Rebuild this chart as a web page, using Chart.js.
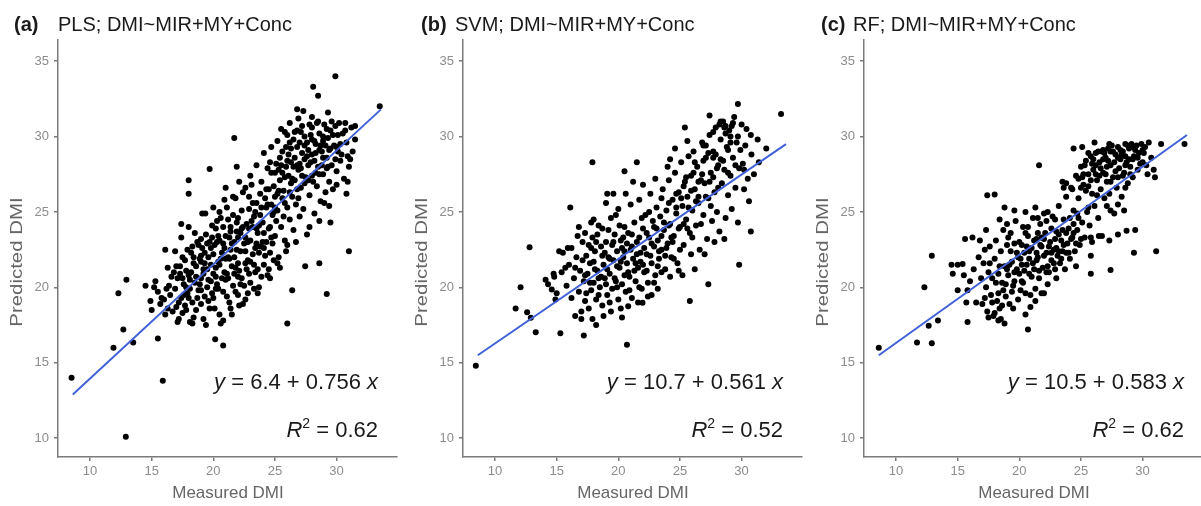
<!DOCTYPE html>
<html>
<head>
<meta charset="utf-8">
<script src="https://cdn.jsdelivr.net/npm/chart.js@4.4.0/dist/chart.umd.min.js"></script>
<style>
  html, body { margin: 0; padding: 0; background: #fff; overflow: hidden; }
  body { width: 1201px; height: 506px; position: relative; font-family: "Liberation Sans", Arial, sans-serif; }
  .panel { position: absolute; top: 0; width: 405px; height: 506px; }
  .panel canvas { position: absolute; left: 0; top: 0; }
  .tag { position: absolute; top: 12px; font-size: 20px; line-height: 24px; font-weight: bold; color: #1a1a1a; white-space: nowrap; }
  .ttl { position: absolute; top: 12px; font-size: 20px; line-height: 24px; color: #1a1a1a; white-space: nowrap; }
  .eq { position: absolute; right: 27px; font-size: 22px; line-height: 26px; color: #1a1a1a; white-space: nowrap; }
  .eq sup { font-size: 14px; vertical-align: 9px; line-height: 0; }
  .ylab { position: absolute; left: -83px; top: 252px; width: 200px; text-align: center; font-size: 17px; line-height: 20px; color: #666; transform: rotate(-90deg) scaleX(1.2); }
  .xlab { position: absolute; left: 128px; top: 483px; width: 200px; text-align: center; font-size: 17px; line-height: 20px; color: #666; }
</style>
</head>
<body>
<script>
// --- DATOS ---
const xTicks = [10, 15, 20, 25, 30];
const yTicks = [10, 15, 20, 25, 30, 35];
const xRange = [7.4, 34.9];
const yRange = [8.75, 36.4];

const panelTags = ["(a)", "(b)", "(c)"];
const panelTitles = ["PLS; DMI~MIR+MY+Conc", "SVM; DMI~MIR+MY+Conc", "RF; DMI~MIR+MY+Conc"];
const intercepts = ["6.4", "10.7", "10.5"];
const slopes = ["0.756", "0.561", "0.583"];
const r2Values = ["0.62", "0.52", "0.62"];

// recta ajustada (extremos)
const fitX = [8.6, 33.6];
const plsFit = [12.9, 31.8];
const svmFit = [15.5, 29.5];
const rfFit = [15.5, 30.1];

// Medido vs predicho - PLS
const plsPoints = [
  [8.5,14.0],[12.9,10.1],[15.9,13.8],[11.9,16.0],[12.7,17.2],[13.5,16.35],[12.95,20.5],[12.3,19.6],[15.5,16.6],[20.15,16.55],
  [20.8,16.15],[26.0,17.6],[29.2,19.55],[31.0,22.4],[27.45,21.4],[28.6,21.6],[26.4,19.8],[33.5,32.0],[29.9,34.0],[28.1,33.3],
  [28.5,32.7],[26.8,31.8],[21.7,29.9],[19.7,27.85],[18.0,27.1],[18.0,26.2],[17.4,24.2],[16.1,22.5],[19.35,24.9],[21.9,28.0],
  [29.5,24.3],[29.4,25.4],[30.8,26.2],[30.9,28.7],[31.5,30.7],[30.7,30.9],[29.3,31.6],
  [14.5,20.1],[14.9,19.1],[15.0,18.5],[15.3,20.4],[15.5,19.7],[15.7,18.9],[15.2,20.0],[16.0,19.2],[16.1,18.2],[16.3,21.3],
  [16.4,20.1],[16.5,19.5],[16.7,18.4],[16.8,21.0],[16.9,19.9],[17.0,18.7],[17.1,20.6],[17.2,17.9],[17.3,21.4],[17.4,19.3],
  [17.5,22.0],[17.6,20.2],[17.7,18.8],[17.8,21.1],[17.9,19.6],[18.0,20.8],[18.1,17.7],[18.2,22.3],[18.3,19.0],[18.4,21.6],
  [18.5,20.3],[18.6,18.5],[18.7,23.0],[18.8,19.8],[18.9,21.9],[19.0,20.6],[19.0,18.9],[19.1,22.6],[19.2,21.2],[19.3,19.4],
  [19.4,23.5],[19.5,20.0],[19.6,22.0],[19.7,18.6],[19.8,21.5],[19.9,24.1],[20.0,20.9],[20.0,19.3],[20.1,22.8],[20.2,23.9],
  [20.3,20.2],[20.4,21.7],[20.5,18.2],[20.6,24.6],[20.7,22.3],[20.8,19.7],[20.9,21.0],[21.0,23.4],[21.0,20.5],[21.1,25.3],
  [21.2,22.0],[21.3,19.0],[21.4,24.0],[21.5,21.4],[21.6,20.1],[21.7,23.0],[21.8,25.9],[21.9,22.5],[22.0,19.5],[22.0,24.6],
  [22.1,21.1],[22.2,23.6],[22.3,20.6],[22.4,26.3],[22.5,22.9],[22.6,19.2],[22.7,24.2],[22.8,21.8],[22.9,25.2],[23.0,20.3],
  [23.0,23.1],[23.1,26.8],[23.2,22.2],[23.3,24.7],[23.4,21.0],[23.5,25.6],[23.6,23.6],[23.7,20.0],[23.8,22.7],[23.9,27.0],
  [24.0,24.3],[24.1,21.5],[24.2,25.9],[24.3,23.0],[24.4,20.8],[24.5,26.5],[24.6,22.3],[24.7,27.6],[24.8,24.8],[24.9,21.8],
  [25.0,26.0],[25.0,23.4],[25.1,28.2],[25.2,25.1],[25.3,22.0],[25.4,27.1],[25.5,24.0],[25.6,29.0],[25.7,26.4],[25.8,23.1],
  [25.9,28.0],[26.0,25.3],[26.0,30.1],[26.1,27.4],[26.2,24.5],[26.3,29.2],[26.4,26.0],[26.5,23.8],[26.6,28.6],[26.7,25.5],
  [26.8,30.4],[26.9,27.8],[27.0,24.7],[27.0,29.6],[27.1,26.6],[27.2,28.9],[27.3,25.2],[27.4,30.0],[27.5,27.3],[27.6,23.5],
  [27.7,29.1],[27.8,26.1],[27.9,28.3],[28.0,30.6],[28.1,27.0],[28.2,24.9],[28.3,29.5],[28.4,26.7],[28.5,28.0],[28.6,30.2],
  [28.7,25.7],[28.8,29.0],[28.9,27.5],[29.0,30.8],[29.1,26.3],[29.2,28.6],[29.3,29.9],[29.4,27.0],[29.5,30.4],[29.6,28.1],
  [29.7,26.5],[29.8,29.4],[29.9,30.7],[30.0,27.7],[30.1,29.0],[30.3,28.4],[30.5,30.2],[30.6,27.2],[30.8,29.6],[31.0,28.0],
  [31.2,30.6],[31.5,29.8],
  [17.2,19.0],[17.5,18.3],[17.8,20.0],[18.0,19.3],[18.2,21.0],[18.4,18.0],[18.6,20.7],[18.8,22.8],[19.0,19.8],[19.2,17.9],
  [19.3,21.6],[19.5,22.9],[19.6,19.1],[19.8,20.4],[20.0,22.2],[20.1,18.6],[20.3,24.4],[20.4,19.9],[20.5,23.1],[20.7,20.6],
  [20.8,17.8],[20.9,22.6],[21.1,19.4],[21.2,24.5],[21.3,21.9],[21.4,18.6],[21.5,22.9],[21.7,20.9],[21.8,19.7],[21.9,24.3],
  [22.0,21.6],[22.1,18.8],[22.2,22.4],[22.3,25.1],[22.5,20.1],[22.6,23.3],[22.7,21.2],[22.8,19.6],[22.9,23.9],[23.0,21.7],
  [23.2,25.6],[23.3,19.9],[23.4,22.6],[23.6,21.2],[23.7,24.1],[23.9,20.7],[24.0,23.0],[24.2,22.1],[24.3,25.3],[24.5,21.2],
  [24.6,24.0],[24.8,22.9],[24.9,26.7],[25.1,24.4],[25.3,26.4],[25.4,21.3],[25.5,28.1],[25.7,24.7],[25.8,27.3],[26.0,22.8],
  [26.1,28.8],[26.3,26.9],[26.5,29.8],[26.6,27.1],[26.8,28.1],[26.9,25.9],[27.1,30.3],[27.2,27.4],[27.4,28.5],[27.6,29.6],
  [27.7,27.1],[27.9,30.1],[28.0,28.8],[28.2,29.7],[28.3,27.6],[28.5,31.0],[28.6,29.1],[28.8,28.1],[28.9,30.0],[29.1,29.4],
  [29.3,28.0],[29.5,29.2],[29.7,30.1],[30.0,29.3],[30.2,30.9],[30.4,28.8],[23.0,27.4],[22.6,26.6],[21.6,26.0],[20.9,25.8],
  [21.3,23.3],[20.2,21.3],[19.7,23.0],[18.9,20.2],[18.5,23.6],[17.9,22.5],[17.0,21.4],[16.6,20.7],[16.2,19.9],[17.6,19.5],
  [24.4,27.9],[24.1,28.9],[25.2,29.7],[24.7,29.3],[23.5,28.1],[26.2,30.9],[25.8,30.3],
  [16.9,22.4],[17.3,20.9],[17.7,21.8],[18.1,19.9],[18.3,22.7],[18.6,21.4],[19.0,23.2],[19.2,20.9],[19.5,21.2],[19.8,22.6],
  [19.9,19.6],[20.2,20.7],[20.4,23.4],[20.6,21.9],[20.8,24.0],[21.0,21.9],[21.2,20.6],[21.4,22.5],[21.6,24.8],[21.8,21.3],
  [22.0,23.3],[22.2,20.2],[22.4,24.0],[22.6,21.6],[22.8,23.0],[23.1,24.4],[23.3,21.5],[23.5,23.9],[23.7,22.3],[23.9,25.3],
  [24.1,23.6],[24.3,26.5],[24.5,23.9],[24.7,25.5],[25.0,27.6],[25.2,26.2],[25.4,28.6],[25.6,27.6],[25.8,25.6],[26.0,28.4],
  [26.2,29.6],[26.4,27.2],[26.6,30.3],[26.8,26.5],[27.0,28.2],[27.2,30.7],[27.4,26.9],[27.6,28.7],[27.8,30.8],[28.0,27.4],
  [28.2,28.4],[28.4,30.9],[28.7,29.4],[28.9,28.6],[29.2,30.5],[29.4,29.1],[29.6,31.0],[29.9,28.5],[30.1,30.1],[30.3,29.5],
  [26.9,31.2],[27.3,31.7],[28.0,31.3],[25.5,30.5],[24.6,28.3],[23.8,26.2],[22.9,26.0],[22.1,27.0],[30.7,30.4],[31.3,29.0],
  [31.1,28.5],[30.9,27.0],[30.0,26.8],[29.0,25.6],[28.6,24.4],[27.8,24.0],[26.7,23.0],[25.9,22.4],[25.2,21.6],[24.6,20.6],
  [23.6,19.6],[22.4,18.9],[21.5,18.2],[20.6,17.6],[19.4,17.5],[18.3,17.6],[17.1,17.7],[16.3,18.6],[15.8,19.3],[17.4,23.3],
  [18.0,24.0],[19.1,24.9],[20.0,25.3],[21.0,26.6],[20.5,25.0],
  [18.1,20.5],[18.4,22.0],[18.7,19.3],[19.0,21.7],[19.3,22.3],[19.6,20.5],[19.9,23.3],[20.2,19.9],[20.5,21.5],[20.8,22.9],
  [21.1,20.9],[21.4,23.7],[21.7,22.0],[22.0,20.7],[22.3,23.9],[22.6,22.4],[22.9,20.9],[23.2,24.0],[23.5,22.9],[23.8,24.8],
  [24.1,22.6],[24.4,25.5],[24.7,23.3],[25.0,25.3],[25.3,27.8],[25.6,25.9],[25.9,29.3],[26.2,26.3],[26.5,28.0],[26.8,29.3],
  [27.1,27.9],[27.4,29.4],[27.7,28.1],[28.0,29.8],[28.3,28.9],[28.6,27.5],[28.9,29.7],[29.2,27.9],[17.5,20.6],[17.8,18.5],
  [19.0,22.1],[20.3,23.0],[21.9,23.7],[23.4,25.0],[24.9,25.0],[26.3,28.3]
];

// Medido vs predicho - SVM
const svmPoints = [
  [8.44,14.8],[11.67,18.6],[12.07,20.0],[12.8,22.66],[12.6,18.35],[12.9,17.98],[13.3,17.03],[15.3,16.95],[17.2,16.8],[18.2,17.5],
  [17.0,17.9],[16.5,18.1],[20.7,16.2],[20.3,18.0],[20.8,18.75],[21.96,18.97],[22.7,19.5],[16.1,25.3],[17.9,28.3],[20.5,27.7],
  [21.5,28.3],[19.6,26.2],[25.8,19.1],[27.3,20.2],[29.8,21.5],[30.75,23.7],[30.6,25.7],[30.2,26.5],[33.2,31.5],[29.7,32.15],
  [27.4,31.4],[28.2,30.8],[28.7,30.7],[25.4,30.6],[25.6,29.7],[26.9,29.4],[24.6,29.2],[24.2,28.5],[29.1,30.0],[30.75,30.1],
  [31.3,29.8],[32.0,29.2],[31.4,28.3],[31.0,27.5],[27.7,28.6],[14.6,19.85],[14.9,19.2],[15.2,22.4],[14.75,20.9],[14.1,20.5],
  [15.7,21.3],[16.2,22.6],[16.8,24.0],[17.3,23.6],[17.8,24.3],[18.3,23.5],[19.1,26.2],
  [14.3,20.2],[14.8,20.7],[15.0,19.6],[15.4,21.0],[15.5,22.3],[15.8,20.1],[16.0,21.5],[16.2,19.3],[16.4,20.6],[16.6,22.0],
  [16.8,19.7],[16.9,21.1],[17.0,18.4],[17.1,23.0],[17.2,20.4],[17.3,19.1],[17.4,22.1],[17.5,20.9],[17.6,18.6],[17.7,21.6],
  [17.8,19.8],[17.9,23.3],[18.0,20.3],[18.1,22.4],[18.2,19.2],[18.3,21.1],[18.4,24.1],[18.5,20.0],[18.6,22.7],[18.7,18.8],
  [18.8,21.5],[18.9,20.6],[19.0,23.0],[19.1,19.5],[19.2,22.0],[19.3,20.9],[19.4,24.6],[19.5,19.9],[19.6,21.8],[19.7,23.5],
  [19.8,20.4],[19.9,22.4],[20.0,19.2],[20.0,25.2],[20.1,21.3],[20.2,23.1],[20.3,20.2],[20.4,22.0],[20.5,24.0],[20.6,19.7],
  [20.7,21.6],[20.8,23.6],[20.9,20.7],[21.0,22.5],[21.0,25.5],[21.1,19.3],[21.2,21.9],[21.3,24.3],[21.4,20.4],[21.5,23.0],
  [21.6,21.3],[21.7,25.8],[21.8,22.3],[21.9,19.9],[22.0,23.9],[22.1,21.0],[22.2,24.8],[22.3,22.2],[22.4,20.3],[22.5,23.3],
  [22.6,26.2],[22.7,21.6],[22.8,24.4],[22.9,22.7],[23.0,20.8],[23.1,25.3],[23.2,23.1],[23.3,21.9],[23.4,24.7],[23.5,22.5],
  [23.6,26.5],[23.7,23.8],[23.8,21.2],[23.9,25.1],[24.0,22.9],[24.1,27.1],[24.2,24.2],[24.3,22.0],[24.4,25.8],[24.5,23.4],
  [24.6,27.6],[24.7,24.9],[24.8,21.6],[24.9,26.3],[25.0,24.0],[25.1,28.3],[25.2,25.4],[25.3,22.8],[25.4,27.0],[25.5,24.5],
  [25.6,26.0],[25.7,28.7],[25.8,23.6],[25.9,27.4],[26.0,25.1],[26.1,29.0],[26.2,26.5],[26.3,24.1],[26.4,28.0],[26.5,25.6],
  [26.6,22.5],[26.7,27.1],[26.8,29.6],[26.9,24.8],[27.0,26.9],[27.1,28.6],[27.2,23.2],[27.3,25.9],[27.4,30.1],[27.5,27.6],
  [27.6,24.4],[27.7,29.0],[27.8,26.3],[27.9,30.6],[28.0,25.0],[28.1,28.1],[28.2,23.7],[28.3,29.8],[28.4,26.9],[28.5,31.0],
  [28.6,27.8],[28.7,24.6],[28.8,29.3],[28.9,26.1],[29.0,30.4],[29.1,27.4],[29.2,25.2],[29.3,28.6],[29.4,31.3],[29.5,26.6],
  [29.6,29.6],[29.8,27.9],[30.0,30.8],[30.1,28.2],[30.3,29.4],[30.5,27.2],[30.8,28.8],
  [17.1,21.8],[17.4,19.6],[17.7,20.3],[18.0,21.7],[18.2,23.0],[18.4,19.5],[18.6,20.7],[18.9,22.3],[19.1,21.2],[19.3,19.0],
  [19.5,22.8],[19.7,20.6],[19.9,21.4],[20.1,24.1],[20.3,22.6],[20.5,20.8],[20.7,22.9],[20.9,19.8],[21.1,23.5],[21.3,21.1],
  [21.5,22.2],[21.7,20.0],[21.9,24.6],[22.1,22.6],[22.3,21.1],[22.5,25.0],[22.7,22.9],[22.9,20.3],[23.1,23.9],[23.3,22.4],
  [23.5,21.0],[23.7,24.3],[23.9,22.6],[24.1,25.6],[24.3,23.3],[24.5,21.9],[24.7,26.2],[24.9,23.9],[25.1,25.9],[25.3,24.2],
  [25.5,27.3],[25.7,25.3],[25.9,22.2],[26.1,27.6],[26.3,25.7],[26.5,27.0],[26.7,24.2],[26.9,28.4],[27.1,26.0],[27.3,28.9],
  [27.5,25.4],[27.7,27.3],[27.9,28.8],[28.1,26.6],[28.3,31.0],[28.5,28.4],[28.7,30.2],[28.9,27.6],[29.1,29.6],[29.3,30.9],
  [29.5,28.1],[29.7,30.0],[29.9,29.1],[30.2,27.8],[30.4,30.5],[19.0,25.6],[19.8,24.8],[18.7,23.9],[20.6,26.2],[22.0,26.8],
  [23.0,27.2],[24.0,28.0],[21.2,27.0],[23.5,25.9],[16.5,21.3],[15.9,22.6],[16.7,23.4],[18.0,24.5],[17.6,22.8],[20.2,18.6],
  [21.6,19.0],[22.4,19.4],[23.2,19.9],[24.2,20.7],[24.9,21.1],[19.4,18.4],[18.8,18.1],[17.9,17.9],[26.0,23.3],[27.0,22.2],
  [27.8,23.0],[28.6,23.2],[29.7,24.3],[26.2,21.2],[25.2,20.8],
  [18.1,21.2],[18.4,20.6],[18.7,22.1],[19.0,20.2],[19.3,21.9],[19.6,23.0],[19.9,20.0],[20.2,21.7],[20.5,22.4],[20.8,21.0],
  [21.1,22.7],[21.4,21.6],[21.7,23.3],[22.0,21.5],[22.3,23.6],[22.6,22.1],[22.9,24.0],[23.2,21.4],[23.5,23.4],[23.8,22.1],
  [24.1,24.1],[24.4,23.0],[24.7,25.3],[25.0,22.5],[25.3,26.7],[25.6,23.9],[25.9,26.4],[26.2,28.3],[26.5,26.0],[26.8,27.5],
  [27.1,29.4],[27.4,27.0],[27.7,30.3],[28.0,27.9],[28.3,28.5],[28.6,30.6],[28.9,29.1],[29.2,30.7],[17.3,20.8],[17.8,22.6],
  [19.2,23.8],[20.4,23.3],[21.8,21.7]
];

// Medido vs predicho - RF
const rfPoints = [
  [8.6,16.0],[11.7,16.35],[12.9,16.3],[12.65,17.45],[13.4,17.8],[12.3,20.0],[12.9,22.1],[15.8,17.7],[20.7,17.2],[18.3,17.8],
  [17.4,26.1],[18.0,26.15],[21.6,28.1],[24.4,29.2],[33.4,29.5],[31.5,29.5],[31.1,22.4],[29.3,22.3],[27.4,21.15],[25.8,20.9],
  [25.8,22.1],[29.4,23.8],[28.5,25.1],[18.8,25.3],[19.6,25.1],[22.0,24.9],[20.7,24.0],[21.5,24.6],[25.1,27.3],[23.6,26.6],
  [25.8,23.3],[26.45,23.4],[27.3,23.1],[28.0,23.5],[28.7,23.75],[27.4,25.1],[28.6,26.6],
  [14.5,21.5],[15.0,21.5],[15.4,21.55],[14.6,20.9],[15.5,20.8],[15.0,19.8],[15.8,19.8],[15.7,19.0],[15.6,23.2],[16.2,23.3],
  [16.0,20.4],[16.3,21.2],[16.5,19.0],[16.7,22.0],[16.9,20.6],[17.0,18.9],[17.1,21.6],[17.2,22.5],[17.3,20.0],[17.4,18.4],
  [17.5,21.0],[17.6,22.7],[17.7,19.5],[17.8,20.6],[17.9,18.1],[18.0,21.9],[18.1,23.1],[18.2,19.1],[18.3,20.9],[18.4,18.6],
  [18.5,22.4],[18.6,20.3],[18.7,23.8],[18.8,21.4],[18.9,19.4],[19.0,22.8],[19.1,20.8],[19.2,18.9],[19.3,23.6],[19.4,21.7],
  [19.5,20.1],[19.6,22.9],[19.7,24.4],[19.8,21.2],[19.9,19.2],[20.0,23.0],[20.1,21.9],[20.2,20.4],[20.3,24.0],[20.4,22.3],
  [20.5,19.6],[20.6,21.5],[20.7,23.4],[20.8,20.9],[20.9,18.7],[21.0,22.6],[21.1,24.6],[21.2,21.2],[21.3,19.9],[21.4,23.2],
  [21.5,22.0],[21.6,20.6],[21.7,24.2],[21.8,22.7],[21.9,21.3],[22.0,19.6],[22.1,23.6],[22.2,22.3],[22.3,25.0],[22.4,21.0],
  [22.5,23.0],[22.6,21.8],[22.7,24.7],[22.8,22.5],[22.9,21.2],[23.0,23.7],[23.1,22.1],[23.2,25.4],[23.3,21.6],[23.4,23.1],
  [23.5,22.4],[23.6,24.5],[23.7,21.2],[23.8,26.0],[23.9,22.9],[24.0,23.9],[24.1,21.9],[24.2,26.6],[24.3,23.3],[24.4,25.1],
  [24.5,22.4],[24.6,27.4],[24.7,23.8],[24.8,25.9],[24.9,22.8],[25.0,28.0],[25.1,24.3],[25.2,26.8],[25.3,23.3],[25.4,28.4],
  [25.5,25.0],[25.6,27.5],[25.7,24.1],[25.8,28.7],[25.9,26.2],[26.0,27.8],[26.1,25.4],[26.2,28.9],[26.3,27.1],[26.4,24.6],
  [26.5,28.3],[26.6,26.5],[26.7,29.0],[26.8,27.6],[26.9,25.9],[27.0,28.6],[27.1,27.0],[27.2,29.2],[27.3,26.2],[27.4,28.1],
  [27.5,29.4],[27.6,27.3],[27.7,24.9],[27.8,28.8],[27.9,26.6],[28.0,29.3],[28.1,27.9],[28.2,28.5],[28.3,26.0],[28.4,29.0],
  [28.5,27.6],[28.6,29.5],[28.7,28.3],[28.8,26.9],[28.9,29.2],[29.0,28.0],[29.1,29.5],[29.2,27.3],[29.3,28.7],[29.5,29.4],
  [29.6,27.8],[29.7,28.9],[29.9,29.5],[30.0,28.3],[30.2,29.3],[30.4,27.5],[30.5,29.6],[30.7,28.6],[30.9,27.8],[31.0,27.3],
  [17.2,19.3],[17.5,18.0],[17.8,19.0],[18.0,18.3],[18.3,19.6],[18.5,17.9],[18.6,18.8],[18.9,20.2],[19.2,21.5],[19.4,19.7],
  [19.6,21.0],[19.8,22.3],[20.0,20.9],[20.2,22.8],[20.4,21.1],[20.6,22.7],[20.8,21.9],[21.0,20.7],[21.2,23.1],[21.4,21.8],
  [21.6,21.1],[21.8,23.3],[22.0,22.1],[22.2,21.0],[22.4,22.7],[22.6,23.9],[22.8,21.6],[23.0,22.6],[23.2,23.5],[23.4,21.9],
  [23.6,22.8],[23.8,23.6],[24.0,22.3],[24.2,23.2],[24.4,24.2],[24.6,22.9],[24.8,24.6],[25.0,23.2],[25.2,27.5],[25.4,26.4],
  [25.6,28.9],[25.8,27.1],[26.0,28.5],[26.2,27.5],[26.4,29.0],[26.6,27.9],[26.8,28.5],[27.0,27.5],[27.2,28.4],[27.4,27.0],
  [27.6,29.0],[27.8,27.7],[28.0,28.6],[28.2,29.1],[28.4,27.4],[28.6,28.7],[28.8,29.4],[29.0,27.5],[29.2,28.5],[29.4,29.1],
  [29.8,28.2],[30.1,28.9],[30.3,28.1],[20.9,19.5],[20.5,18.2],[21.3,19.1],[20.1,19.8],[19.5,18.6],[18.8,17.6],[21.8,19.6],
  [19.0,24.2],[18.4,24.5],[20.5,25.0],[21.3,25.3],[22.2,24.4],[16.8,23.1],[17.3,23.8],[23.5,27.0],[23.8,26.9],[24.3,26.5],
  [24.8,27.2],[25.1,29.3],[26.1,29.6],[27.3,29.5],[26.9,28.9],[25.6,25.3],[26.3,26.1],[27.1,25.4],[28.0,25.5],[26.7,23.4],
  [25.9,23.0],[24.6,21.4],[23.0,20.6],[22.3,20.2],
  [18.1,20.3],[18.4,21.4],[18.7,19.8],[19.0,21.2],[19.3,22.4],[19.6,20.4],[19.9,22.0],[20.2,21.5],[20.5,23.6],[20.8,22.4],
  [21.1,21.6],[21.4,22.3],[21.7,22.8],[22.0,23.2],[22.3,21.4],[22.6,22.3],[22.9,23.2],[23.2,22.4],[23.5,23.8],[23.8,22.3],
  [24.1,24.6],[24.4,23.6],[24.7,24.9],[25.0,26.6],[25.3,28.1],[25.6,26.7],[25.9,28.2],[26.2,28.1],[26.5,27.4],[26.8,29.1],
  [27.1,28.0],[27.4,29.0],[27.7,28.3],[28.0,27.3],[28.3,28.8],[28.6,28.1],[28.9,28.5],[29.2,29.3],[29.6,28.6],[30.0,29.1],
  [17.6,21.6],[19.1,23.3],[20.3,20.3],[21.5,23.6],[22.9,24.5]
];

// --- ESTILO ---
const fontFamily = "'Liberation Sans', Arial, sans-serif";
const axisGrey = "#7a7a7a";
const panelLefts = [0, 405, 806];
const tagLefts = [14, 16, 15];
const titleLefts = [58, 50, 47];

function toXY(points) {
    return points.map(p => ({ x: p[0], y: p[1] }));
}

function crearPanel(i, points, fitY) {
    const panel = document.createElement("div");
    panel.className = "panel";
    panel.style.left = panelLefts[i] + "px";
    panel.innerHTML =
        `<canvas width="405" height="506"></canvas>` +
        `<div class="tag" style="left:${tagLefts[i]}px">${panelTags[i]}</div>` +
        `<div class="ttl" style="left:${titleLefts[i]}px">${panelTitles[i]}</div>` +
        `<div class="eq" style="top:369px"><i>y</i> = ${intercepts[i]} + ${slopes[i]} <i>x</i></div>` +
        `<div class="eq" style="top:417px"><i>R</i><sup>2</sup> = ${r2Values[i]}</div>` +
        `<div class="ylab">Predicted DMI</div>` +
        `<div class="xlab">Measured DMI</div>`;
    document.body.appendChild(panel);

    const fitLine = fitX.map((x, k) => ({ x: x, y: fitY[k] }));

    new Chart(panel.querySelector("canvas"), {
        type: "scatter",
        data: {
            datasets: [
                {
                    type: "line",
                    data: fitLine,
                    borderColor: "#4061d8",
                    borderWidth: 2,
                    pointRadius: 0,
                    fill: false,
                    order: 0
                },
                {
                    data: toXY(points),
                    backgroundColor: "#000",
                    borderWidth: 0,
                    pointRadius: 3,
                    order: 1
                }
            ]
        },
        options: {
            responsive: false,
            animation: false,
            layout: { padding: { top: 40, right: 8, left: 0, bottom: 0 }, autoPadding: false },
            plugins: { legend: { display: false }, tooltip: { enabled: false } },
            scales: {
                x: {
                    type: "linear",
                    min: xRange[0],
                    max: xRange[1],
                    afterFit: s => { s.height = 49; },
                    afterBuildTicks: s => { s.ticks = xTicks.map(v => ({ value: v })); },
                    ticks: { color: "#8c8c8c", font: { size: 13, family: fontFamily }, padding: 3, maxRotation: 0 },
                    grid: { drawOnChartArea: false, tickLength: 4, color: axisGrey, lineWidth: 1.5 },
                    border: { color: axisGrey, width: 1.5 }
                },
                y: {
                    type: "linear",
                    min: yRange[0],
                    max: yRange[1],
                    afterFit: s => { s.width = 58; },
                    afterBuildTicks: s => { s.ticks = yTicks.map(v => ({ value: v })); },
                    ticks: { color: "#8c8c8c", font: { size: 13, family: fontFamily }, padding: 5 },
                    grid: { drawOnChartArea: false, tickLength: 4, color: axisGrey, lineWidth: 1.5 },
                    border: { color: axisGrey, width: 1.5 }
                }
            }
        }
    });
}

crearPanel(0, plsPoints, plsFit);
crearPanel(1, svmPoints, svmFit);
crearPanel(2, rfPoints, rfFit);
</script>
</body>
</html>
